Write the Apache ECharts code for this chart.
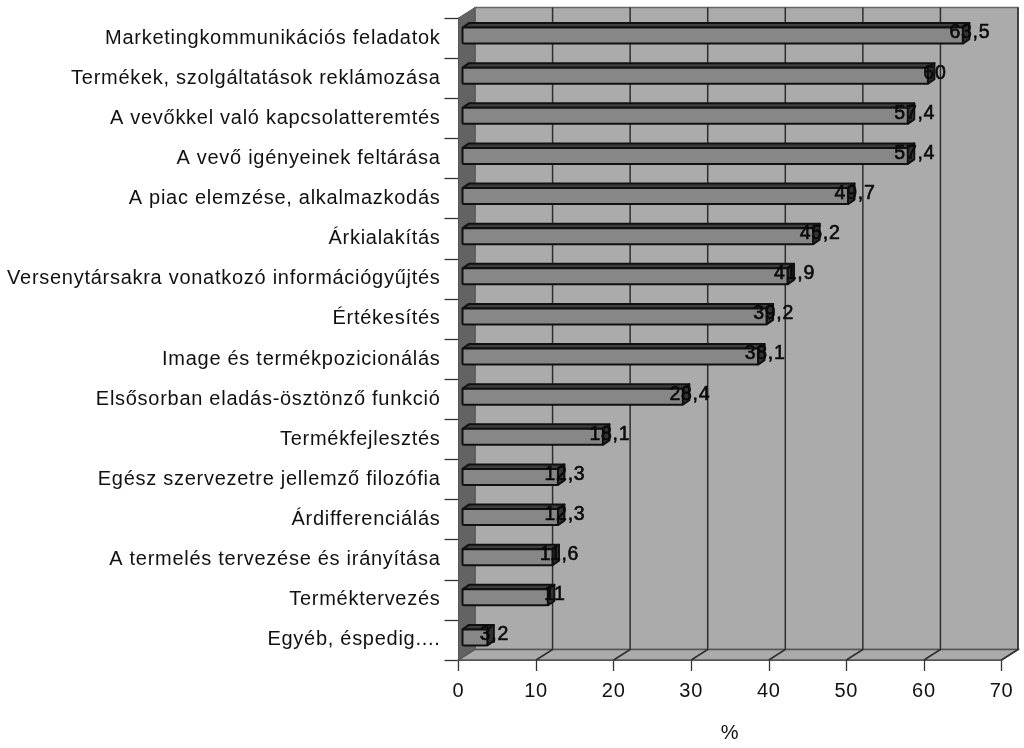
<!DOCTYPE html>
<html><head><meta charset="utf-8">
<style>html,body{margin:0;padding:0;background:#fff}#c{width:1024px;height:748px}</style>
<script src="https://cdn.jsdelivr.net/npm/echarts@6/dist/echarts.min.js"></script></head>
<body><div id="c"></div>
<script>
const categories = ["Marketingkommunikációs feladatok","Termékek, szolgáltatások reklámozása","A vevőkkel való kapcsolatteremtés","A vevő igényeinek feltárása","A piac elemzése, alkalmazkodás","Árkialakítás","Versenytársakra vonatkozó információgyűjtés","Értékesítés","Image és termékpozicionálás","Elsősorban eladás-ösztönző funkció","Termékfejlesztés","Egész szervezetre jellemző filozófia","Árdifferenciálás","A termelés tervezése és irányítása","Terméktervezés","Egyéb, éspedig...."];
// Bar lengths; the first bar reaches about 64.5 although its label reads 63,5.
const values = [64.5,60,57.4,57.4,49.7,45.2,41.9,39.2,38.1,28.4,18.1,12.3,12.3,11.6,11,3.2];
const valueLabels = ["63,5","60","57,4","57,4","49,7","45,2","41,9","39,2","38,1","28,4","18,1","12,3","12,3","11,6","11","3,2"];
const gridTicks = [10,20,30,40,50,60,70];
const DX=16.5, DY=-10.5;
const c=echarts.init(document.getElementById('c'),null,{renderer:'canvas'});
try{ c.getZr().painter.getLayer(0).ctx.letterSpacing='0.72px'; }catch(e){}
const lineStyle={stroke:'#2e2e2e',lineWidth:1.5,fill:null};
function walls(p,api){
  const o=api.coord([0,0]);
  const band=api.size([0,1])[1];
  const x0=o[0], top=o[1]-band/2, bottom=top+band*categories.length, xR=api.coord([70,0])[0];
  const ch=[];
  ch.push({type:'polygon',shape:{points:[[x0+DX,top+DY],[xR+DX,top+DY],[xR+DX,bottom+DY],[x0+DX,bottom+DY]]},style:{fill:'#ababab',stroke:'#666',lineWidth:1.5}});
  ch.push({type:'polygon',shape:{points:[[x0,top],[x0+DX,top+DY],[x0+DX,bottom+DY],[x0,bottom]]},style:{fill:'#636363',stroke:'#555',lineWidth:1}});
  ch.push({type:'polygon',shape:{points:[[x0,bottom],[x0+DX,bottom+DY],[xR+DX,bottom+DY],[xR,bottom]]},style:{fill:'#ababab',stroke:'#555',lineWidth:1.4}});
  gridTicks.forEach(t=>{const x=api.coord([t,0])[0];
    ch.push({type:'polyline',shape:{points:[[x,bottom],[x+DX,bottom+DY],[x+DX,top+DY]]},style:lineStyle});});
  return {type:'group',children:ch};
}
function bar3d(p,api){
  const i=api.value(2);
  const start=api.coord([0,i]), end=api.coord([api.value(0),i]);
  const x0=start[0]+4, x1=end[0]+4, cy=start[1]-2.5, h=16, dx=6.5, dy=-4.5;
  const s={stroke:'#111',lineWidth:2,lineJoin:'round'};
  return {type:'group',children:[
    {type:'polygon',shape:{points:[[x0,cy-h/2],[x0+dx,cy-h/2+dy],[x1+dx,cy-h/2+dy],[x1,cy-h/2]]},style:{...s,fill:'#3f3f3f'}},
    {type:'polygon',shape:{points:[[x1,cy-h/2],[x1+dx,cy-h/2+dy],[x1+dx,cy+h/2+dy],[x1,cy+h/2]]},style:{...s,fill:'#333333'}},
    {type:'rect',shape:{x:x0,y:cy-h/2,width:x1-x0,height:h,r:1.5},style:{...s,fill:'#878787'}},
    {type:'text',x:x1+7,y:cy-2.5,style:{text:valueLabels[i],font:'19.5px "Liberation Sans"',fill:'#0a0a0a',align:'center',verticalAlign:'middle',stroke:'#0a0a0a',lineWidth:0.6}}
  ]};
}
c.setOption({
  animation:false,
  grid:{left:458.5,top:18,width:543,height:642.5,containLabel:false},
  xAxis:{type:'value',min:0,max:70,interval:10,name:'%',nameLocation:'middle',nameGap:63,
    nameTextStyle:{color:'#111',fontSize:20,fontFamily:'Liberation Sans'},
    axisLine:{show:true,lineStyle:{color:'#222',width:1.5}},axisTick:{show:true,length:11,lineStyle:{color:'#333',width:1.3}},
    splitLine:{show:false},axisLabel:{color:'#111',fontSize:20,fontFamily:'Liberation Sans',margin:21}},
  yAxis:{type:'category',data:categories,inverse:true,
    axisLine:{show:true,lineStyle:{color:'#333',width:1.5}},
    axisTick:{show:true,length:14,alignWithLabel:false,lineStyle:{color:'#333',width:1.3}},
    axisLabel:{color:'#111',fontSize:20,fontFamily:'Liberation Sans',margin:18,interval:0}},
  series:[
    {type:'custom',name:'walls',coordinateSystem:'cartesian2d',clip:false,data:[[0,0]],encode:{x:0,y:1},renderItem:walls,z:1,silent:true},
    {type:'custom',name:'bars',coordinateSystem:'cartesian2d',clip:false,data:values.map((v,i)=>[v,categories[i],i]),encode:{x:0,y:1},renderItem:bar3d,z:3,silent:true}
  ]
});
</script></body></html>
